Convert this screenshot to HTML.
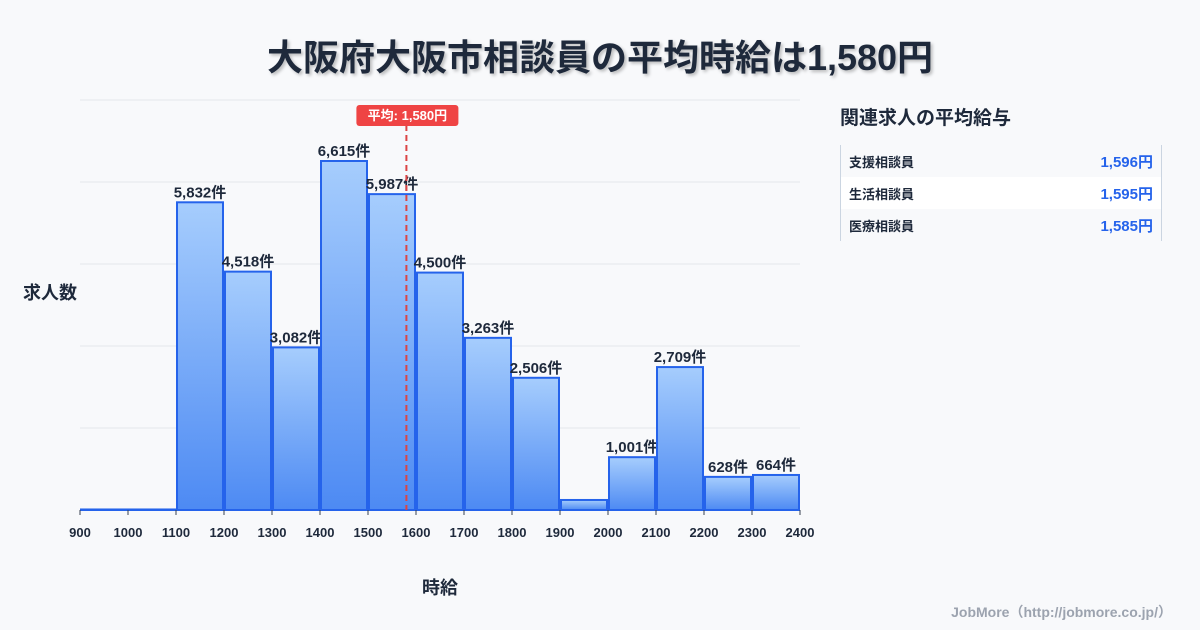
<!DOCTYPE html>
<html><head><meta charset="utf-8">
<style>
body{margin:0;width:1200px;height:630px;background:#f8f9fb;font-family:"Liberation Sans","Noto Sans CJK JP",sans-serif;overflow:hidden;position:relative;color:#1e293b}
.t{position:absolute;left:0;width:1200px;top:29px;text-align:center;font-size:36px;font-weight:bold;text-shadow:2px 2px 3px rgba(0,0,0,.25)}
.side{position:absolute;left:840px;top:103px;width:320px}
.side h3{margin:0;font-size:19px;font-weight:bold}
.tbl{position:absolute;top:42px;left:0;width:320px;border-left:1px solid #cbd5e1;border-right:1px solid #cbd5e1}
.row{height:32px;display:flex;justify-content:space-between;align-items:center;padding:0 8px;font-size:13px;font-weight:bold}
.row span:last-child{color:#2563eb;font-size:15px}
.foot{position:absolute;right:28px;top:602px;font-size:14px;color:#9ca3af;font-weight:bold}
</style></head><body>
<div class="t">大阪府大阪市相談員の平均時給は1,580円</div>
<svg id="c" width="1200" height="630" style="position:absolute;left:0;top:0">
<defs><linearGradient id="g" x1="0" y1="0" x2="0" y2="1"><stop offset="0" stop-color="#a6cdfd"/><stop offset="1" stop-color="#4d8af3"/></linearGradient></defs>
</svg>
<div class="side">
<h3>関連求人の平均給与</h3>
<div class="tbl">
<div class="row"><span>支援相談員</span><span>1,596円</span></div>
<div class="row" style="background:#fff"><span>生活相談員</span><span>1,595円</span></div>
<div class="row"><span>医療相談員</span><span>1,585円</span></div>
</div></div>
<div class="foot">JobMore（http://jobmore.co.jp/）</div>
<script>
const bins=[900,1000,1100,1200,1300,1400,1500,1600,1700,1800,1900,2000,2100,2200,2300];
const counts=[10,10,5832,4518,3082,6615,5987,4500,3263,2506,190,1001,2709,628,664];
const showLabel=[false,false,true,true,true,true,true,true,true,true,false,true,true,true,true];
const xTicks=[900,1000,1100,1200,1300,1400,1500,1600,1700,1800,1900,2000,2100,2200,2300,2400];
const avg=1580;
const yMax=7771;
const NS="http://www.w3.org/2000/svg",s=document.getElementById('c');
const X=v=>80+(v-900)*720/1500, Y=v=>510-v*410/yMax;
function mk(t,a,txt){const e=document.createElementNS(NS,t);for(const k in a)e.setAttribute(k,a[k]);if(txt!=null)e.textContent=txt;s.appendChild(e);return e;}
for(let i=0;i<=5;i++){const e=mk('line',{x1:80,x2:800,y1:Y(yMax*i/5),y2:Y(yMax*i/5),stroke:'#e5e7eb'});

}
bins.forEach((b,i)=>{const x0=X(b)+1,x1=X(b+100)-1,y=Y(counts[i]);
const r=mk('rect',{x:x0,y:y,width:x1-x0,height:510-y,fill:'url(#g)',stroke:'#2563eb','stroke-width':2});


if(showLabel[i]){const t=mk('text',{x:(x0+x1)/2,y:y-5,'text-anchor':'middle','font-size':15,'font-weight':'bold',fill:'#1e293b'},counts[i].toLocaleString('en-US')+'件');

}});
xTicks.forEach(v=>{mk('line',{x1:X(v),x2:X(v),y1:510,y2:515,stroke:'#374151'});
const t=mk('text',{x:X(v),y:537,'text-anchor':'middle','font-size':13,'font-weight':'bold',fill:'#1e293b'},v);

});
const ax=X(avg);
const al=mk('line',{x1:ax,x2:ax,y1:125,y2:510,stroke:'#dc4444','stroke-width':2,'stroke-dasharray':'6,4'});


mk('rect',{x:ax-50,y:105,width:102,height:21,rx:3,fill:'#ef4444'});
const at=mk('text',{x:ax+1,y:120,'text-anchor':'middle','font-size':13,'font-weight':'bold',fill:'#fff'},'平均: 1,580円');


const yt=mk('text',{x:50,y:299,'text-anchor':'middle','font-size':18,'font-weight':'bold',fill:'#1e293b'},'求人数');


const xt=mk('text',{x:440,y:594,'text-anchor':'middle','font-size':18,'font-weight':'bold',fill:'#1e293b'},'時給');


</script>
</body></html>
